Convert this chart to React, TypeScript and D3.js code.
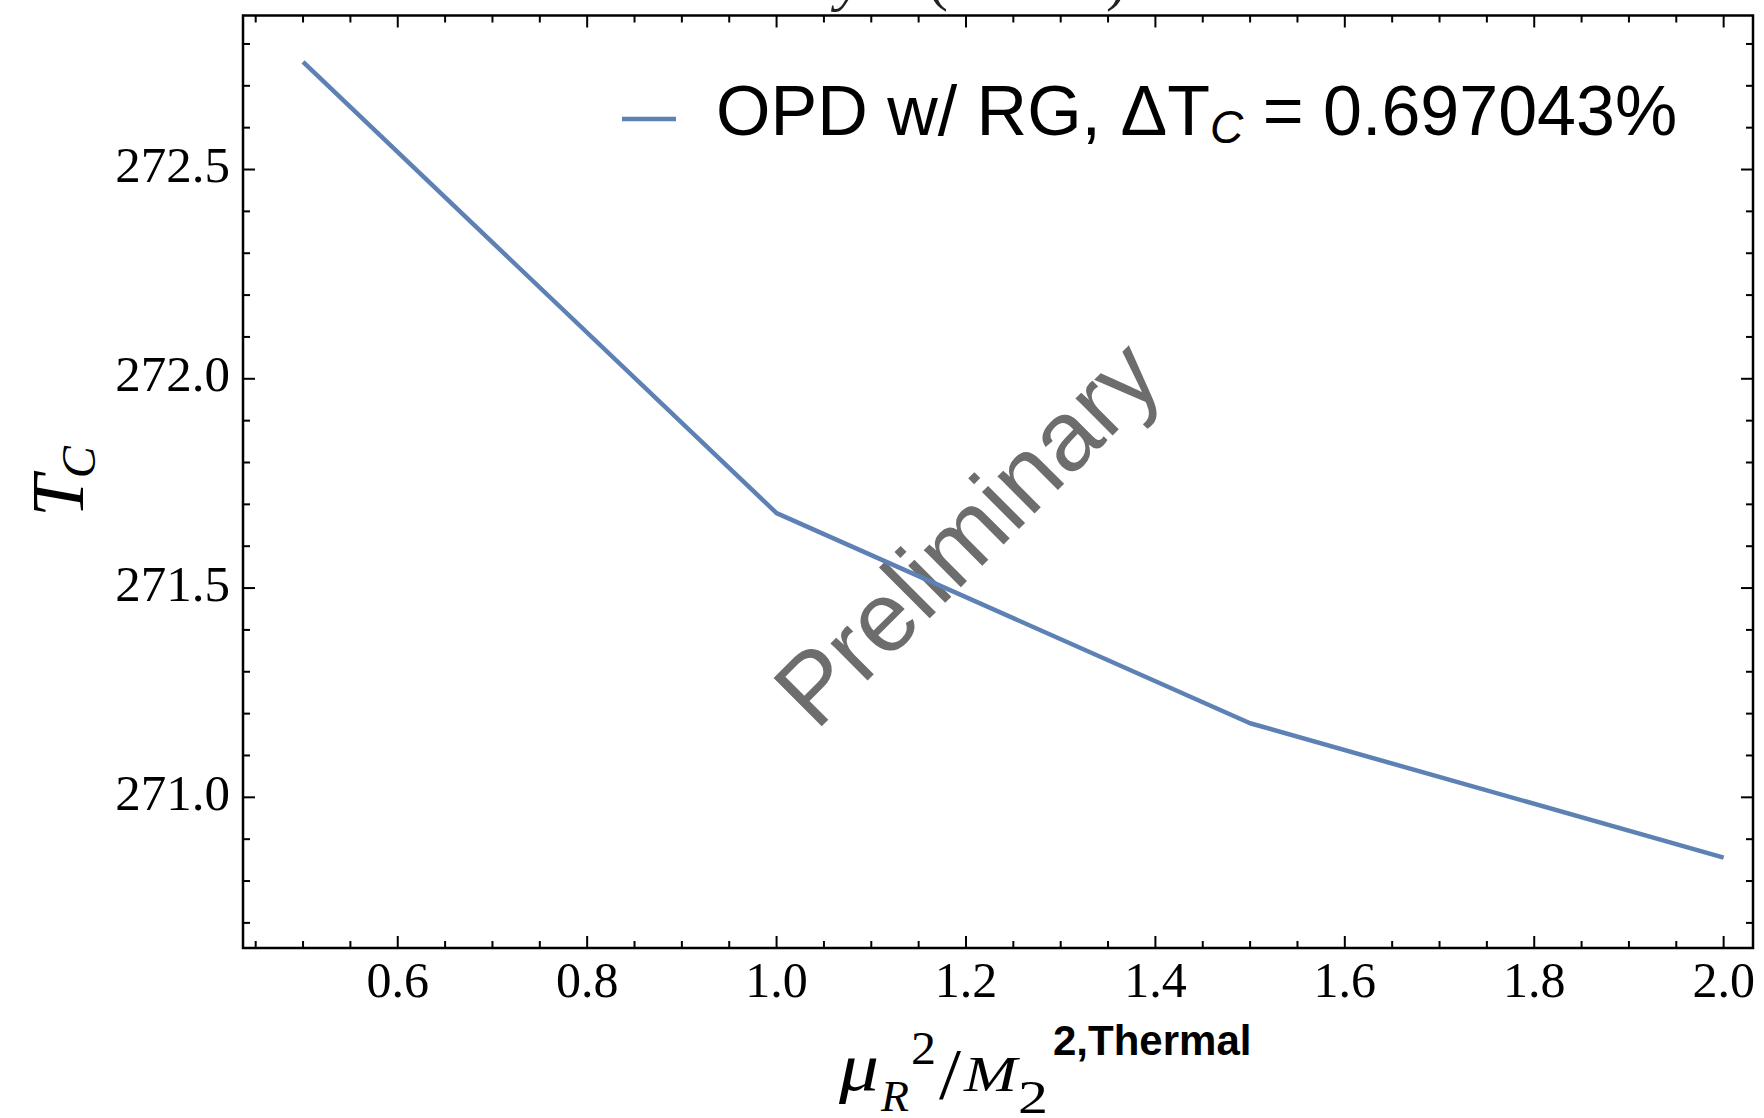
import React from "react";
import * as d3 from "d3";

// ---- data ----
const xValues = [0.5, 1.0, 1.5, 2.0];
const tcValues = [272.757, 271.679, 271.177, 270.856];

const xTickValues = [0.6, 0.8, 1.0, 1.2, 1.4, 1.6, 1.8, 2.0];
const xTickLabels = ["0.6", "0.8", "1.0", "1.2", "1.4", "1.6", "1.8", "2.0"];
const yTickValues = [271.0, 271.5, 272.0, 272.5];
const yTickLabels = ["271.0", "271.5", "272.0", "272.5"];

const legendLabel = "OPD w/ RG, ΔT";
const legendSub = "C";
const legendValue = " = 0.697043%";
const watermark = "Preliminary";

const xDomain = [0.4366, 2.031];
const yDomain = [270.64, 272.868];

const W = 1764;
const H = 1118;
const frame = { left: 243, right: 1753, top: 15.5, bottom: 948 };

const SERIF = "'Liberation Serif', 'Times New Roman', serif";
const SANS = "'Liberation Sans', Arial, Helvetica, sans-serif";
const LINE_COLOR = "#5E81B5";

// pieces of the x axis label  μ_R^2 / M_2^{2,Thermal}
const xLabelPieces = [
  { t: "μ", x: 839, y: 1090, size: 68, italic: true, w: 40 },
  { t: "R", x: 881, y: 1111, size: 44, italic: true, w: 28 },
  { t: "2", x: 911, y: 1064, size: 46, italic: false, w: 25 },
  { t: "/", x: 939, y: 1098, size: 72, italic: false, w: 22 },
  { t: "M", x: 964, y: 1091, size: 50, italic: true, w: 53 },
  { t: "2", x: 1018, y: 1113, size: 46, italic: false, w: 30 },
];

export default function App() {
  const x = d3.scaleLinear().domain(xDomain).range([frame.left, frame.right]);
  const y = d3.scaleLinear().domain(yDomain).range([frame.bottom, frame.top]);

  const data = xValues.map((v, i) => [v, tcValues[i]] as [number, number]);
  const line = d3
    .line<[number, number]>()
    .x((d) => x(d[0]))
    .y((d) => y(d[1]));

  const xMinor = d3.range(0.45, 2.03, 0.05).filter(
    (v) => !xTickValues.some((t) => Math.abs(t - v) < 1e-6)
  );
  const yMinor = d3.range(270.7, 272.86, 0.1).filter(
    (v) => !yTickValues.some((t) => Math.abs(t - v) < 1e-6)
  );

  const MAJ = 12;
  const MIN = 7;
  const tickStroke = { stroke: "#000", strokeWidth: 2 };

  return (
    <svg
      width={W}
      height={H}
      style={{ position: "absolute", left: 0, top: 0, background: "#fff" }}
    >
      <rect x={0} y={0} width={W} height={H} fill="#fff" />

      {/* clipped title fragments */}
      <text fontFamily={SERIF} fontSize={60} fill="#222" y={-1}>
        <tspan x={836} fontStyle="italic">y</tspan>
        <tspan x={928}>(</tspan>
        <tspan x={1106}>)</tspan>
      </text>

      {/* watermark */}
      <text
        transform={`translate(991,557) rotate(-45)`}
        textAnchor="middle"
        fontFamily={SANS}
        fontSize={99}
        fill="#6d6d6d"
      >
        {watermark}
      </text>

      {/* data line */}
      <path
        d={line(data) || ""}
        fill="none"
        stroke={LINE_COLOR}
        strokeWidth={4.5}
        strokeLinejoin="round"
      />

      {/* frame */}
      <rect
        x={frame.left}
        y={frame.top}
        width={frame.right - frame.left}
        height={frame.bottom - frame.top}
        fill="none"
        stroke="#000"
        strokeWidth={2.5}
      />

      {/* x ticks (bottom and top) */}
      {xTickValues.map((v) => (
        <g key={"xM" + v}>
          <line x1={x(v)} x2={x(v)} y1={frame.bottom} y2={frame.bottom - MAJ} {...tickStroke} />
          <line x1={x(v)} x2={x(v)} y1={frame.top} y2={frame.top + MAJ} {...tickStroke} />
        </g>
      ))}
      {xMinor.map((v) => (
        <g key={"xm" + v}>
          <line x1={x(v)} x2={x(v)} y1={frame.bottom} y2={frame.bottom - MIN} {...tickStroke} />
          <line x1={x(v)} x2={x(v)} y1={frame.top} y2={frame.top + MIN} {...tickStroke} />
        </g>
      ))}
      {/* y ticks (left and right) */}
      {yTickValues.map((v) => (
        <g key={"yM" + v}>
          <line x1={frame.left} x2={frame.left + MAJ} y1={y(v)} y2={y(v)} {...tickStroke} />
          <line x1={frame.right} x2={frame.right - MAJ} y1={y(v)} y2={y(v)} {...tickStroke} />
        </g>
      ))}
      {yMinor.map((v) => (
        <g key={"ym" + v}>
          <line x1={frame.left} x2={frame.left + MIN} y1={y(v)} y2={y(v)} {...tickStroke} />
          <line x1={frame.right} x2={frame.right - MIN} y1={y(v)} y2={y(v)} {...tickStroke} />
        </g>
      ))}

      {/* tick labels */}
      {xTickValues.map((v, i) => (
        <text
          key={"xl" + v}
          x={x(v)}
          y={997}
          textAnchor="middle"
          fontFamily={SERIF}
          fontSize={50}
          fill="#000"
        >
          {xTickLabels[i]}
        </text>
      ))}
      {yTickValues.map((v, i) => (
        <text
          key={"yl" + v}
          x={230}
          y={y(v) + 12.5}
          textAnchor="end"
          fontFamily={SERIF}
          fontSize={51}
          fill="#000"
        >
          {yTickLabels[i]}
        </text>
      ))}

      {/* y axis label T_C */}
      <text transform="translate(83,517) rotate(-90)" fontFamily={SERIF} fill="#000">
        <tspan fontSize={75} fontStyle="italic">T</tspan>
        <tspan fontSize={48} fontStyle="italic" dy={12} dx={-3}>C</tspan>
      </text>

      {/* x axis label */}
      {xLabelPieces.map((p, i) => (
        <text
          key={"xlab" + i}
          x={p.x}
          y={p.y}
          fontFamily={SERIF}
          fontSize={p.size}
          fontStyle={p.italic ? "italic" : "normal"}
          textLength={p.w}
          lengthAdjust="spacingAndGlyphs"
          fill="#000"
        >
          {p.t}
        </text>
      ))}
      <text x={1053} y={1055} fontFamily={SANS} fontWeight="bold" fontSize={42} fill="#000">
        2,Thermal
      </text>

      {/* legend */}
      <line x1={622} x2={676} y1={119} y2={119} stroke={LINE_COLOR} strokeWidth={4.5} />
      <text x={716} y={135} fontFamily={SANS} fontSize={70} fill="#000">
        {legendLabel}
        <tspan fontSize={46} fontStyle="italic" dy={8}>{legendSub}</tspan>
        <tspan dy={-8}>{legendValue}</tspan>
      </text>
    </svg>
  );
}
